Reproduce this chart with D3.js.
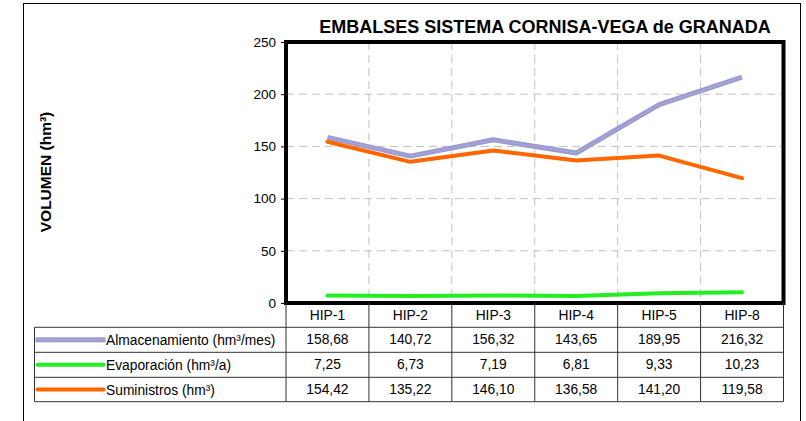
<!DOCTYPE html>
<html>
<head>
<meta charset="utf-8">
<script src="https://cdn.jsdelivr.net/npm/d3@7"></script>
<style>
    body { margin: 0; background: #fff; }
    svg { display: block; font-family: Arial, "Liberation Sans", sans-serif; }
    .grid line { stroke: #c0c0c0; stroke-dasharray: 8 5; }
    .cell { font-size: 13.8px; fill: #000; }
</style>
</head>
<body>
<div id="chart"></div>
<script>
// Chart data
const categories = ["HIP-1", "HIP-2", "HIP-3", "HIP-4", "HIP-5", "HIP-8"];
const almacenamiento = [158.68, 140.72, 156.32, 143.65, 189.95, 216.32];
const evaporacion = [7.25, 6.73, 7.19, 6.81, 9.33, 10.23];
const suministros = [154.42, 135.22, 146.10, 136.58, 141.20, 119.58];
const yTicks = [0, 50, 100, 150, 200, 250];

const seriesNames = ["Almacenamiento (hm³/mes)", "Evaporación (hm³/a)", "Suministros (hm³)"];
const seriesColors = ["#9b9bd2", "#22ee22", "#ff6600"];
const seriesValues = [almacenamiento, evaporacion, suministros];

const width = 806, height = 421;
const plot = { left: 286, right: 783.5, top: 42, bottom: 303 };
const tableLeft = 34.5;
const rowLines = [327.3, 352.3, 377.3, 401.7];

const svg = d3.select("#chart")
    .append("svg")
    .attr("width", width)
    .attr("height", height);

// Outer frame
svg.append("rect")
    .attr("x", 23.5).attr("y", 3.5)
    .attr("width", 777).attr("height", 430)
    .attr("fill", "none")
    .attr("stroke", "#000")
    .attr("stroke-width", 1);

// Scales
const x = d3.scaleBand()
    .domain(categories)
    .range([plot.left, plot.right]);

const y = d3.scaleLinear()
    .domain([0, 250])
    .range([plot.bottom, plot.top]);

// Grid lines
const grid = svg.append("g").attr("class", "grid");
grid.selectAll(".h")
    .data(yTicks.filter(d => d > 0 && d < 250))
    .enter().append("line")
    .attr("x1", plot.left).attr("x2", plot.right)
    .attr("y1", d => y(d)).attr("y2", d => y(d));
grid.selectAll(".v")
    .data(categories.slice(1))
    .enter().append("line")
    .attr("x1", d => x(d)).attr("x2", d => x(d))
    .attr("y1", plot.top).attr("y2", plot.bottom);

// Y axis
const yAxis = svg.append("g")
    .attr("transform", `translate(${plot.left},0)`)
    .call(d3.axisLeft(y).tickValues(yTicks).tickSize(5).tickPadding(5));
yAxis.select(".domain").remove();
yAxis.selectAll("line").attr("stroke", "#000");
yAxis.selectAll("text")
    .style("font-size", "13.5px")
    .style("font-family", "Arial, 'Liberation Sans', sans-serif")
    .attr("fill", "#000");

// Y axis title
svg.append("text")
    .attr("transform", "translate(51,172) rotate(-90)")
    .attr("text-anchor", "middle")
    .style("font-size", "15.5px")
    .style("font-weight", "bold")
    .text("VOLUMEN (hm³)");

// Title
svg.append("text")
    .attr("x", 545)
    .attr("y", 33)
    .attr("text-anchor", "middle")
    .style("font-size", "18px")
    .style("font-weight", "bold")
    .text("EMBALSES SISTEMA CORNISA-VEGA de GRANADA");

// Lines
const line = d3.line()
    .x((d, i) => x(categories[i]) + x.bandwidth() / 2)
    .y(d => y(d));

seriesValues.forEach((vals, k) => {
    svg.append("path")
        .datum(vals)
        .attr("d", line)
        .attr("fill", "none")
        .attr("stroke", seriesColors[k])
        .attr("stroke-width", k === 0 ? 5 : 4)
        .attr("stroke-linecap", k === 0 ? "butt" : "round")
        .attr("stroke-linejoin", "round");
    if (k === 0) {
        // lighter texture inside the storage line
        svg.append("path")
            .datum(vals)
            .attr("d", line)
            .attr("fill", "none")
            .attr("stroke", "#b8b8e2")
            .attr("stroke-width", 1)
            .attr("stroke-dasharray", "1 1");
    }
});

// Plot frame
svg.append("rect")
    .attr("x", plot.left).attr("y", plot.top)
    .attr("width", plot.right - plot.left)
    .attr("height", plot.bottom - plot.top)
    .attr("fill", "none")
    .attr("stroke", "#000")
    .attr("stroke-width", 4);

// Data table
const table = svg.append("g");
const tableStroke = "#333";

rowLines.forEach(ry => {
    table.append("line")
        .attr("x1", tableLeft).attr("x2", plot.right)
        .attr("y1", ry).attr("y2", ry)
        .attr("stroke", tableStroke);
});
table.append("line")
    .attr("x1", tableLeft).attr("x2", tableLeft)
    .attr("y1", rowLines[0]).attr("y2", rowLines[3])
    .attr("stroke", tableStroke);
categories.forEach(c => {
    table.append("line")
        .attr("x1", x(c)).attr("x2", x(c))
        .attr("y1", plot.bottom).attr("y2", rowLines[3])
        .attr("stroke", tableStroke);
});
table.append("line")
    .attr("x1", plot.right).attr("x2", plot.right)
    .attr("y1", plot.bottom).attr("y2", rowLines[3])
    .attr("stroke", tableStroke);

// Header row
table.selectAll(".hdr")
    .data(categories)
    .enter().append("text")
    .attr("class", "cell")
    .attr("x", d => x(d) + x.bandwidth() / 2)
    .attr("y", (plot.bottom + rowLines[0]) / 2 + 5)
    .attr("text-anchor", "middle")
    .text(d => d);

const fmt = v => d3.format(".2f")(v).replace(".", ",");

seriesValues.forEach((vals, k) => {
    const cy = (rowLines[k] + rowLines[k + 1]) / 2;
    // legend key
    if (k === 0) {
        table.append("rect")
            .attr("x", tableLeft + 1).attr("y", cy - 2.5)
            .attr("width", 70).attr("height", 5)
            .attr("fill", seriesColors[k]);
        table.append("line")
            .attr("x1", tableLeft + 1).attr("x2", tableLeft + 71)
            .attr("y1", cy).attr("y2", cy)
            .attr("stroke", "#b8b8e2")
            .attr("stroke-dasharray", "1 1");
    } else {
        table.append("line")
            .attr("x1", tableLeft + 3).attr("x2", tableLeft + 69)
            .attr("y1", cy).attr("y2", cy)
            .attr("stroke", seriesColors[k])
            .attr("stroke-width", 4)
            .attr("stroke-linecap", "round");
    }
    table.append("text")
        .attr("class", "cell")
        .attr("x", tableLeft + 71.5)
        .attr("y", cy + 5.5)
        .text(seriesNames[k]);
    table.selectAll(".v" + k)
        .data(vals)
        .enter().append("text")
        .attr("class", "cell")
        .attr("x", (d, i) => x(categories[i]) + x.bandwidth() / 2)
        .attr("y", cy + 4.5)
        .attr("text-anchor", "middle")
        .text(d => fmt(d));
});
</script>
</body>
</html>
